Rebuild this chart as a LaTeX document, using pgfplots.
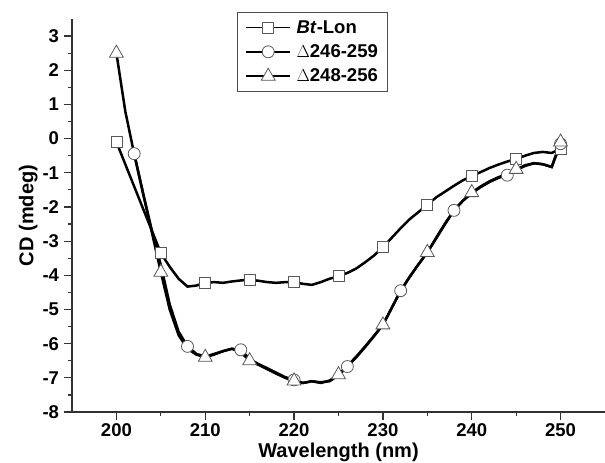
\documentclass[border=0pt]{standalone}
\usepackage{pgfplots}
\pgfplotsset{compat=1.18}
\usepackage{fontspec}
\setmainfont{Liberation Sans}

% curves
\pgfplotstableread{
x y
200 -0.10
201 -0.75
202 -1.40
203 -2.05
204 -2.70
205 -3.35
206 -3.75
207 -4.10
208 -4.33
209 -4.30
210 -4.22
211 -4.20
212 -4.22
213 -4.18
214 -4.15
215 -4.13
216 -4.16
217 -4.20
218 -4.22
219 -4.20
220 -4.20
221 -4.25
222 -4.28
223 -4.20
224 -4.10
225 -4.03
226 -3.93
227 -3.80
228 -3.62
229 -3.42
230 -3.18
231 -2.90
232 -2.62
233 -2.36
234 -2.15
235 -1.93
236 -1.72
237 -1.55
238 -1.38
239 -1.22
240 -1.10
241 -0.98
242 -0.86
243 -0.76
244 -0.67
245 -0.60
246 -0.50
247 -0.42
248 -0.39
249 -0.42
250 -0.30
}\btline
\pgfplotstableread{
x y
202 -0.44
203 -1.60
204 -2.70
205 -3.70
206 -4.85
207 -5.65
208 -6.08
209 -6.30
210 -6.38
211 -6.30
212 -6.22
213 -6.15
214 -6.18
215 -6.45
216 -6.60
217 -6.72
218 -6.85
219 -6.98
220 -7.06
221 -7.15
222 -7.10
223 -7.13
224 -7.10
225 -6.92
226 -6.67
227 -6.40
228 -6.10
229 -5.78
230 -5.45
231 -4.95
232 -4.45
233 -4.05
234 -3.68
235 -3.33
236 -2.92
237 -2.50
238 -2.10
239 -1.82
240 -1.60
241 -1.42
242 -1.27
243 -1.15
244 -1.07
245 -0.93
246 -0.80
247 -0.72
248 -0.75
249 -0.83
250 -0.15
}\daline
\pgfplotstableread{
x y
200 2.50
201 0.80
202 -0.45
203 -1.60
204 -2.75
205 -3.91
206 -5.00
207 -5.75
208 -6.15
209 -6.32
210 -6.40
211 -6.32
212 -6.22
213 -6.15
214 -6.25
215 -6.50
216 -6.62
217 -6.75
218 -6.88
219 -7.00
220 -7.09
221 -7.15
222 -7.10
223 -7.15
224 -7.08
225 -6.91
226 -6.65
227 -6.38
228 -6.08
229 -5.77
230 -5.45
231 -4.95
232 -4.45
233 -4.05
234 -3.68
235 -3.33
236 -2.90
237 -2.48
238 -2.10
239 -1.82
240 -1.58
241 -1.40
242 -1.25
243 -1.13
244 -1.03
245 -0.90
246 -0.78
247 -0.72
248 -0.75
249 -0.83
250 -0.10
}\dbline

\begin{document}
\begin{tikzpicture}
\path[use as bounding box] (-72pt,-51pt) rectangle (533pt,412pt);
\begin{axis}[
    scale only axis,
    width=533pt, height=393pt,
    xmin=195, xmax=255,
    ymin=-8, ymax=3.5,
    axis x line=bottom,
    axis y line=left,
    axis line style={-, black!80, line width=1.3pt},
    xtick={200,210,...,250},
    ytick={-8,-7,...,3},
    minor tick num=1,
    tick align=outside,
    major tick length=7.5pt,
    minor tick length=3.5pt,
    every tick/.style={black!80, line width=1.2pt},
    /pgf/number format/assume math mode=true,
    tick label style={font=\fontsize{18.5}{20}\selectfont\bfseries},
    xticklabel style={yshift=-1pt},
    yticklabel style={xshift=-2pt},
    label style={font=\fontsize{20}{22}\selectfont\bfseries},
    xlabel={Wavelength (nm)},
    ylabel={CD (mdeg)},
    xlabel style={yshift=1pt},
    ylabel style={yshift=-2pt},
    legend style={at={(0.3096,1.018)}, anchor=north west,
        draw=black!70, line width=0.9pt, fill=white,
        font=\fontsize{18.5}{20}\selectfont\bfseries,
        row sep=6pt, inner xsep=8pt, inner ysep=6pt},
    legend cell align=left,
    legend image code/.code={
        \draw[black, line width=1.5pt] (0pt,0pt) -- (44pt,0pt);
        \draw[#1] plot coordinates {(22pt,0pt)};
        \path (48pt,0pt);
    },
    mk/.style={only marks, draw=black!65, fill=white, line width=0.8pt},
]
\addplot[black, line width=2.5pt, forget plot] table {\btline};
\addplot[black, line width=2.5pt, forget plot] table {\daline};
\addplot[black, line width=2.5pt, forget plot] table {\dbline};

\addplot[mk, mark=square*, mark size=5.5pt] coordinates {
(200,-0.10) (205,-3.35) (210,-4.22) (215,-4.13) (220,-4.20) (225,-4.03)
(230,-3.18) (235,-1.93) (240,-1.10) (245,-0.60) (250,-0.30)};
\addlegendentry{\textbf{\textit{Bt}}-Lon}
\addplot[mk, mark=*, mark size=6pt] coordinates {
(202,-0.44) (208,-6.08) (214,-6.18) (220,-7.06) (226,-6.67)
(232,-4.45) (238,-2.10) (244,-1.07) (250,-0.15)};
\addlegendentry{$\Delta$246-259}
\addplot[mk, mark=triangle*, mark size=8pt] coordinates {
(200,2.50) (205,-3.91) (210,-6.40) (215,-6.50) (220,-7.09) (225,-6.91)
(230,-5.45) (235,-3.33) (240,-1.58) (245,-0.90) (250,-0.10)};
\addlegendentry{$\Delta$248-256}
\end{axis}
\end{tikzpicture}
\end{document}
